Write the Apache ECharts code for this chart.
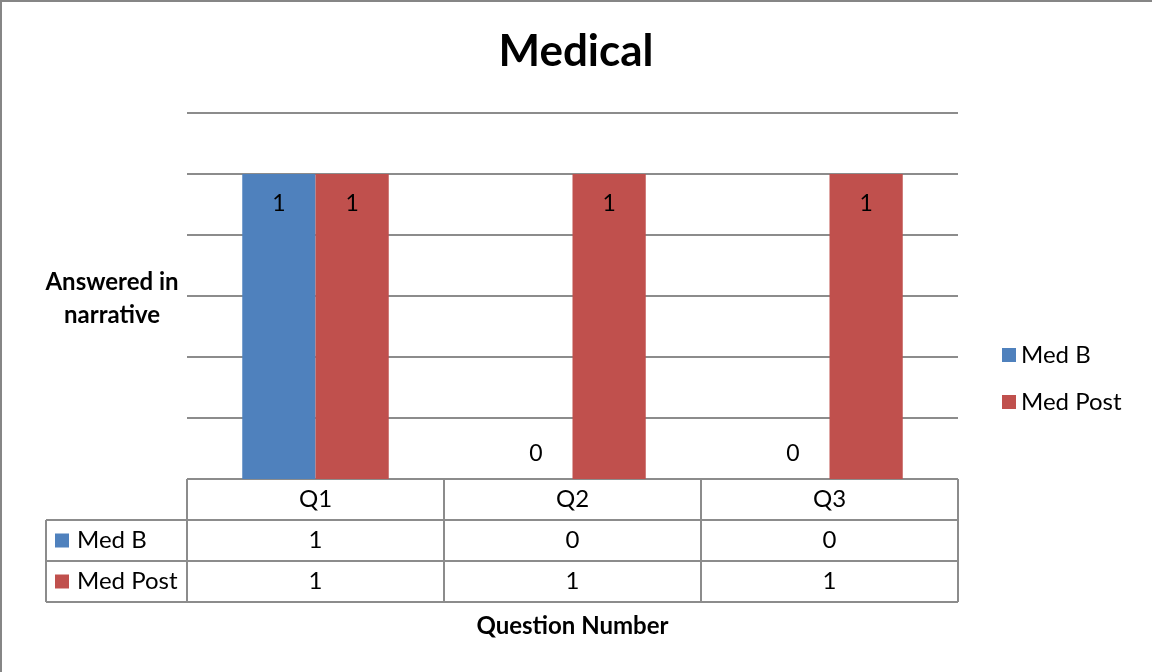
<!DOCTYPE html>
<html>
<head>
<meta charset="utf-8">
<script src="https://cdn.jsdelivr.net/npm/echarts@6/dist/echarts.min.js"></script>
<style>
  html, body { margin: 0; padding: 0; background: #fff; }
  #main { width: 1152px; height: 672px; }
</style>
</head>
<body>
<div id="main"></div>
<script>
// data
var categories = ['Q1', 'Q2', 'Q3'];
var seriesNames = ['Med B', 'Med Post'];
var medB = [1, 0, 0];
var medPost = [1, 1, 1];
var colors = ['#4F81BD', '#C0504D'];
var font = 'Lato, "Open Sans", sans-serif';
var fs = 24;

var myChart = echarts.init(document.getElementById('main'));

// label for a bar: zero values sit just above the axis
function barData(vals) {
    return vals.map(function (v) {
        if (v === 0) {
            return { value: v, label: { position: 'top', distance: 14 } };
        }
        return v;
    });
}

var option = {
    animation: false,
    color: colors,
    title: [
        {
            text: 'Medical',
            left: 'center',
            top: 25,
            textStyle: { fontFamily: font, fontSize: 44, fontWeight: 'bold', color: '#000' }
        },
        {
            text: 'Answered in\nnarrative',
            left: 107,
            top: 261,
            textAlign: 'center',
            textStyle: { fontFamily: font, fontSize: fs, fontWeight: 'bold', color: '#000', lineHeight: 33 }
        }
    ],
    legend: {
        orient: 'vertical',
        left: 997,
        top: 338,
        itemWidth: 14,
        itemHeight: 14,
        itemGap: 23,
        icon: 'rect',
        data: seriesNames,
        textStyle: { fontFamily: font, fontSize: fs, color: '#000' }
    },
    grid: { left: 187, right: 194, top: 113, bottom: 193 },
    xAxis: {
        type: 'category',
        data: categories,
        axisLine: { show: false },
        axisTick: { show: false },
        axisLabel: { show: false },
        name: 'Question Number',
        nameLocation: 'middle',
        nameGap: 135,
        nameTextStyle: { fontFamily: font, fontSize: fs, fontWeight: 'bold', color: '#000' }
    },
    yAxis: {
        type: 'value',
        min: 0,
        max: 1.2,
        interval: 0.2,
        axisLine: { show: false },
        axisTick: { show: false },
        axisLabel: { show: false },
        splitLine: { lineStyle: { color: '#8c8c8c', width: 2 } }
    },
    series: [
        {
            name: seriesNames[0],
            type: 'bar',
            data: barData(medB),
            barGap: 0,
            barCategoryGap: '43%',
            label: { show: true, position: 'insideTop', distance: 18, color: '#000', fontFamily: font, fontSize: 23 }
        },
        {
            name: seriesNames[1],
            type: 'bar',
            data: barData(medPost),
            label: { show: true, position: 'insideTop', distance: 18, color: '#000', fontFamily: font, fontSize: 23 }
        }
    ]
};
myChart.setOption(option);

// data table under the plot
var lineColor = '#8c8c8c';
var rowH = 41;
var tableTop = 479;
var x0 = 187, x1 = 958, labelLeft = 46;
var colW = (x1 - x0) / categories.length;
var rows = [medB, medPost];
var g = [];

function line(ax, ay, bx, by) {
    g.push({ type: 'line', shape: { x1: ax, y1: ay, x2: bx, y2: by }, style: { stroke: lineColor, lineWidth: 2 }, silent: true });
}
function txt(x, y, s, align) {
    g.push({ type: 'text', x: x, y: y, style: { text: s, fill: '#000', font: fs + 'px ' + font, textAlign: align || 'center', textVerticalAlign: 'middle' }, silent: true });
}

// horizontal lines
line(x0, tableTop, x1, tableTop);
for (var r = 1; r <= rows.length + 1; r++) {
    line(labelLeft, tableTop + r * rowH, x1, tableTop + r * rowH);
}
// vertical lines
line(labelLeft, tableTop + rowH, labelLeft, tableTop + 3 * rowH);
for (var c = 0; c <= categories.length; c++) {
    line(x0 + c * colW, tableTop, x0 + c * colW, tableTop + 3 * rowH);
}
// header cells
categories.forEach(function (cat, i) {
    var cx = myChart.convertToPixel({ xAxisIndex: 0 }, cat);
    txt(cx, tableTop + rowH / 2, cat);
});
// value rows
rows.forEach(function (vals, ri) {
    var cy = tableTop + (ri + 1) * rowH + rowH / 2;
    g.push({ type: 'rect', shape: { x: 55, y: cy - 7, width: 14, height: 14 }, style: { fill: colors[ri] }, silent: true });
    txt(77, cy, seriesNames[ri], 'left');
    vals.forEach(function (v, i) {
        var cx = myChart.convertToPixel({ xAxisIndex: 0 }, categories[i]);
        txt(cx, cy, String(v));
    });
});
// outer frame
g.push({ type: 'rect', shape: { x: 1, y: 1, width: 1200, height: 700 }, style: { fill: 'none', stroke: '#868686', lineWidth: 2 }, silent: true });

myChart.setOption({ graphic: g });
</script>
</body>
</html>
